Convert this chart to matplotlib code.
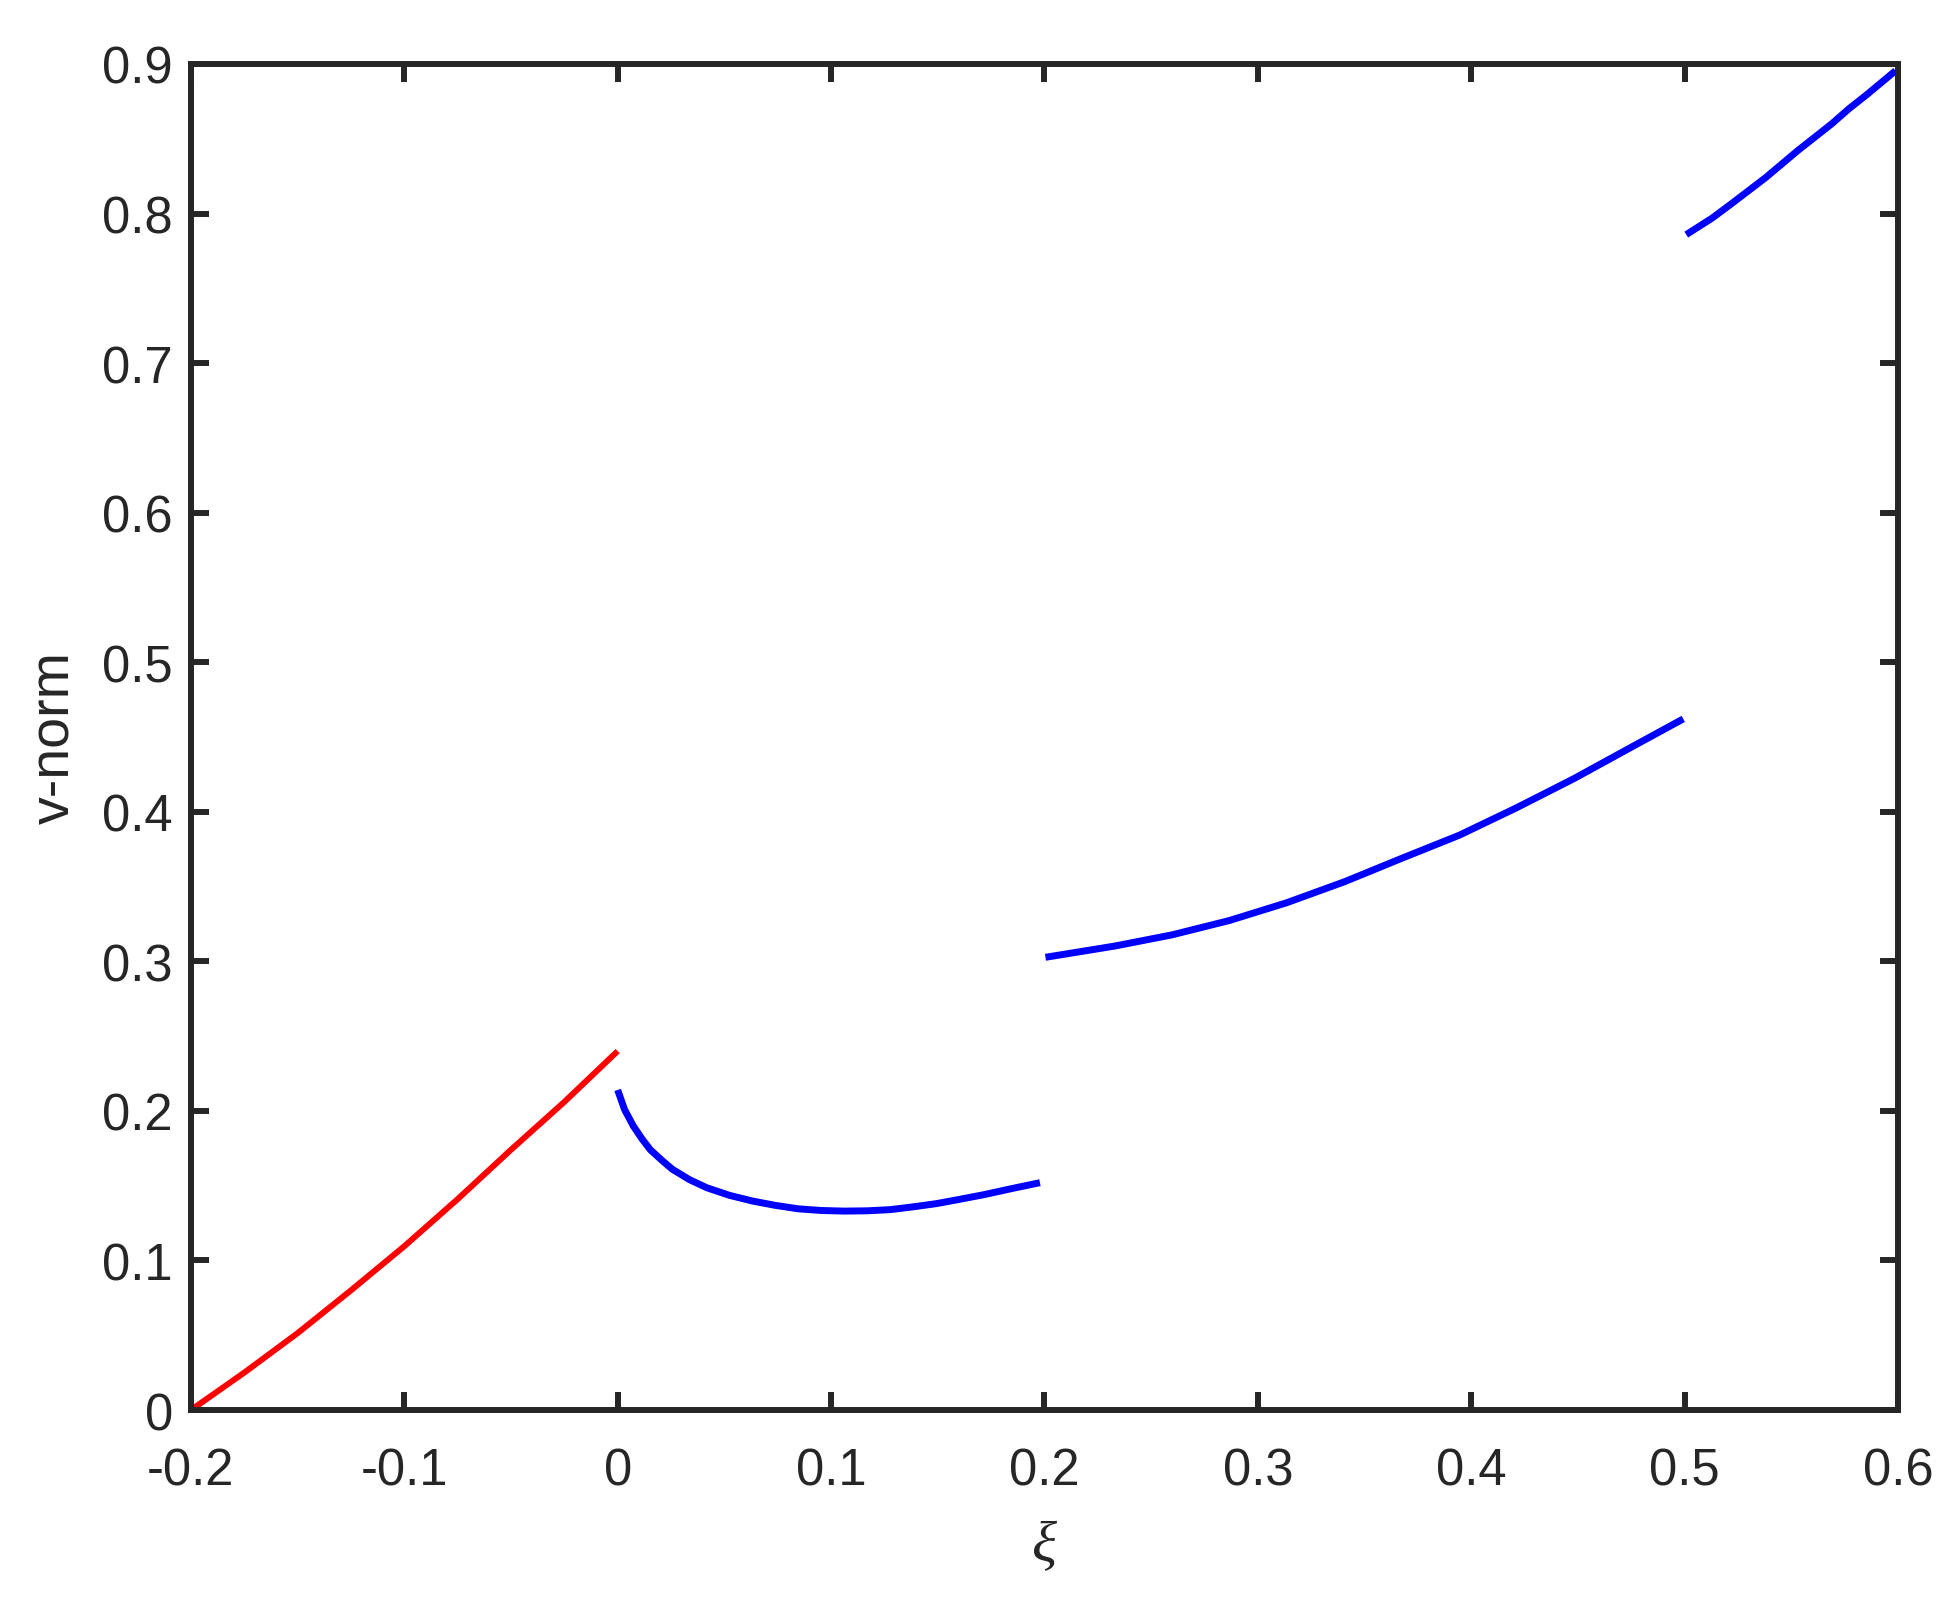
import numpy as np
import matplotlib
matplotlib.use("Agg")
import matplotlib.pyplot as plt

# ==========================================
# DATA
# ==========================================

xi_red = [-0.2, -0.175, -0.15, -0.125, -0.1, -0.075, -0.05, -0.025, 0.0]
v_red = [0.0, 0.025, 0.0514, 0.080, 0.1095, 0.141, 0.174, 0.206, 0.240]

xi_b1 = [0.0, 0.0032, 0.0073, 0.0113, 0.0153, 0.0207, 0.0256, 0.0337, 0.0418, 0.0525,
         0.0633, 0.074, 0.0848, 0.0956, 0.1063, 0.117, 0.1279, 0.1387, 0.1494, 0.160,
         0.1717, 0.1845, 0.1979]
v_b1 = [0.214, 0.201, 0.190, 0.1815, 0.174, 0.167, 0.161, 0.154, 0.1486, 0.1435,
        0.1397, 0.1368, 0.1345, 0.1334, 0.133, 0.1332, 0.134, 0.1359, 0.138, 0.1408,
        0.144, 0.148, 0.152]

xi_b2 = [0.2005, 0.2329, 0.2598, 0.2867, 0.3136, 0.3406, 0.3675, 0.3944, 0.4213, 0.4482, 0.4752, 0.4994]
v_b2 = [0.3027, 0.3102, 0.3177, 0.3273, 0.3392, 0.3532, 0.3689, 0.3843, 0.4027, 0.4222, 0.4433, 0.4621]

xi_b3 = [0.5008, 0.513, 0.5224, 0.538, 0.553, 0.569, 0.577, 0.585, 0.5989]
v_b3 = [0.7859, 0.797, 0.807, 0.824, 0.842, 0.860, 0.870, 0.879, 0.8955]

x_ticks = [-0.2, -0.1, 0, 0.1, 0.2, 0.3, 0.4, 0.5, 0.6]
x_tick_labels = ["-0.2", "-0.1", "0", "0.1", "0.2", "0.3", "0.4", "0.5", "0.6"]
y_ticks = [0, 0.1, 0.2, 0.3, 0.4, 0.5, 0.6, 0.7, 0.8, 0.9]
y_tick_labels = ["0", "0.1", "0.2", "0.3", "0.4", "0.5", "0.6", "0.7", "0.8", "0.9"]

# ==========================================
# PLOT
# ==========================================

AX_COLOR = "#262626"
plt.rcParams["font.family"] = ["Liberation Sans", "DejaVu Sans"]

fig = plt.figure(figsize=(19.54, 16.08), dpi=100)
ax = fig.add_axes([0.0977, 0.1225, 0.8736, 0.8371])

ax.plot(xi_red, v_red, color="red", linewidth=4.3, solid_capstyle="butt")
for xs, vs in [(xi_b1, v_b1), (xi_b2, v_b2), (xi_b3, v_b3)]:
    ax.plot(xs, vs, color="blue", linewidth=5.0, solid_capstyle="butt")

ax.set_xlim(-0.2, 0.6)
ax.set_ylim(0, 0.9)
ax.set_xticks(x_ticks)
ax.set_xticklabels(x_tick_labels)
ax.set_yticks(y_ticks)
ax.set_yticklabels(y_tick_labels)

for s in ax.spines.values():
    s.set_linewidth(4.3)
    s.set_color(AX_COLOR)

ax.tick_params(axis="both", direction="in", length=13, width=4.3, color=AX_COLOR,
               labelcolor=AX_COLOR, labelsize=36.5, top=True, right=True)
ax.tick_params(axis="x", pad=26)
ax.tick_params(axis="y", pad=13)

ax.set_xlabel("ξ", fontsize=42, color=AX_COLOR, family=["Liberation Serif", "DejaVu Serif"],
              style="italic", labelpad=18)
ax.set_ylabel("v-norm", fontsize=40, color=AX_COLOR, labelpad=15)

fig.savefig("out.png", dpi=100, facecolor="white")
